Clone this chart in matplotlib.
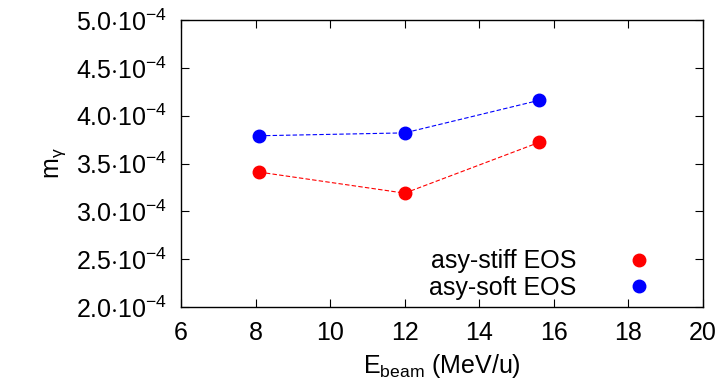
import matplotlib
matplotlib.use("Agg")
import matplotlib.pyplot as plt

plt.rcParams.update({
    "font.family": ["Liberation Sans", "DejaVu Sans"],
    "mathtext.fontset": "custom",
    "mathtext.rm": "Liberation Sans",
    "mathtext.it": "Liberation Sans:italic",
})

e_beam = [8.1, 12.0, 15.6]
m_stiff = [3.41e-4, 3.19e-4, 3.72e-4]
m_soft = [3.79e-4, 3.82e-4, 4.16e-4]

x_ticks = [6, 8, 10, 12, 14, 16, 18, 20]
y_ticks = [2.0e-4, 2.5e-4, 3.0e-4, 3.5e-4, 4.0e-4, 4.5e-4, 5.0e-4]
y_labels = [r"%.1f$\cdot$10$^{-4}$" % (v * 1e4) for v in y_ticks]

fig = plt.figure(figsize=(7.24, 3.91), dpi=100)
ax = fig.add_axes([181 / 724, 1 - 307 / 391, (703 - 181) / 724, (307 - 20) / 391])

ax.plot(e_beam, m_stiff, ls="--", lw=0.8, color="red", dashes=(4, 2))
ax.plot(e_beam, m_soft, ls="--", lw=0.8, color="blue", dashes=(4, 2))
ax.plot(e_beam, m_stiff, "o", ms=9, color="red", label="asy-stiff EOS")
ax.plot(e_beam, m_soft, "o", ms=9, color="blue", label="asy-soft EOS")

ax.set_xlim(6, 20)
ax.set_ylim(2.0e-4, 5.0e-4)
ax.set_xticks(x_ticks)
ax.set_yticks(y_ticks)
ax.set_yticklabels(y_labels)
ax.tick_params(direction="in", top=True, right=True, length=6, labelsize=18, pad=10)
for s in ax.spines.values():
    s.set_linewidth(1.0)

ax.set_xlabel(r"E$_{\mathrm{beam}}$ (MeV/u)", fontsize=18, labelpad=5)
ax.set_ylabel(r"m$_{\mathrm{γ}}$", fontsize=18, labelpad=6)

ax.legend(loc="lower right", markerfirst=False, frameon=False, fontsize=18,
          handlelength=1.0, handletextpad=2.0, labelspacing=0.1,
          borderaxespad=0.0, bbox_to_anchor=(0.92, -0.01))

fig.savefig("out.png", dpi=100)
